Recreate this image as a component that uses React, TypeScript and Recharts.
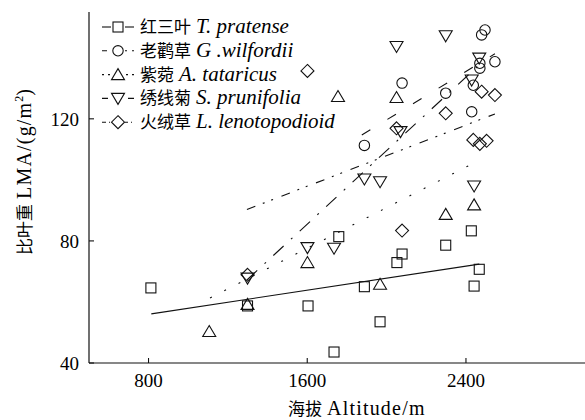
import React from 'react';
import { ScatterChart, Scatter, XAxis, YAxis, ReferenceLine } from 'recharts';

const LATIN = "'Liberation Serif', 'Times New Roman', serif";
const CJK = "'Noto Sans CJK SC', 'Noto Sans CJK JP', sans-serif";
const INK = '#111';

// tick labels
const X_TICKS = [800, 1600, 2400];
const Y_TICKS = [40, 80, 120];

// species names
const speciesCN = ['红三叶', '老鹳草', '紫菀', '绣线菊', '火绒草'];
const speciesLatin = ['T. pratense', 'G .wilfordii', 'A. tataricus', 'S. prunifolia', 'L. lenotopodioid'];

// 红三叶 T. pratense
const pratenseAlt = [812, 1299, 1604, 1735, 1759, 1888, 1967, 2052, 2078, 2298, 2427, 2441, 2467];
const pratenseLMA = [64.6, 58.7, 58.7, 43.6, 81.4, 65.0, 53.5, 72.9, 75.7, 78.6, 83.3, 65.2, 70.7];

// 老鹳草 G. wilfordii
const wilfordiiAlt = [1888, 2078, 2298, 2429, 2437, 2470, 2470, 2479, 2496, 2546];
const wilfordiiLMA = [111.3, 131.7, 128.4, 122.3, 131.0, 138.2, 136.6, 147.5, 149.1, 138.7];

// 紫菀 A. tataricus
const tataricusAlt = [1106, 1299, 1601, 1755, 1967, 2050, 2298, 2441];
const tataricusLMA = [50.3, 59.2, 72.9, 127.3, 65.8, 127.0, 88.7, 91.8];

// 绣线菊 S. prunifolia
const prunifoliaAlt = [1299, 1601, 1735, 1888, 1967, 2050, 2070, 2298, 2429, 2441, 2467];
const prunifoliaLMA = [67.8, 77.8, 77.6, 100.3, 99.4, 143.7, 115.8, 147.2, 132.7, 98.0, 139.9];

// 火绒草 L. lenotopodioid
const lenotoAlt = [1299, 1601, 2050, 2078, 2298, 2437, 2470, 2479, 2504, 2546];
const lenotoLMA = [68.9, 135.7, 116.9, 83.4, 121.8, 113.1, 111.8, 128.9, 112.8, 127.8];

// fitted lines (start / end)
const fitAlt = [[814, 2467], [1875, 2546], [1110, 2442], [1296, 2467], [1296, 2546]];
const fitLMA = [[56.1, 72.4], [114.7, 141.3], [61.3, 105.6], [67.2, 137.7], [90.3, 121.6]];

const dashes = ['', '10 20', '2 14', '14 10 2 10', '9 8 2 7 2 9'];
const legendDashes = ['', '5 5', '2 4', '6 3 1 3', '4 3 1 3'];

const toPoints = (xs: number[], ys: number[]) => xs.map((x, i) => ({ x, y: ys[i] }));

const SquareShape = (p: any) => (
  <rect x={p.cx - 5} y={p.cy - 5} width={10} height={10} fill="none" stroke={INK} strokeWidth={1.1} />
);
const CircleShape = (p: any) => (
  <circle cx={p.cx} cy={p.cy} r={5.2} fill="none" stroke={INK} strokeWidth={1.1} />
);
const TriUpShape = (p: any) => (
  <path d={`M${p.cx},${p.cy - 6} L${p.cx + 6.5},${p.cy + 5} L${p.cx - 6.5},${p.cy + 5} Z`} fill="none" stroke={INK} strokeWidth={1.1} />
);
const TriDownShape = (p: any) => (
  <path d={`M${p.cx},${p.cy + 6} L${p.cx + 6.5},${p.cy - 5} L${p.cx - 6.5},${p.cy - 5} Z`} fill="none" stroke={INK} strokeWidth={1.1} />
);
const DiamondShape = (p: any) => (
  <path d={`M${p.cx},${p.cy - 6.5} L${p.cx + 6.5},${p.cy} L${p.cx},${p.cy + 6.5} L${p.cx - 6.5},${p.cy} Z`} fill="none" stroke={INK} strokeWidth={1.1} />
);

const shapes = [SquareShape, CircleShape, TriUpShape, TriDownShape, DiamondShape];
const seriesData = [
  toPoints(pratenseAlt, pratenseLMA),
  toPoints(wilfordiiAlt, wilfordiiLMA),
  toPoints(tataricusAlt, tataricusLMA),
  toPoints(prunifoliaAlt, prunifoliaLMA),
  toPoints(lenotoAlt, lenotoLMA),
];

const LEGEND_Y0 = 27;
const LEGEND_STEP = 23.8;

const Overlay = () => (
  <svg width={585} height={420} style={{ position: 'absolute', left: 0, top: 0, pointerEvents: 'none' }}>
    {speciesCN.map((cn, i) => {
      const cy = LEGEND_Y0 + i * LEGEND_STEP;
      const Shape = shapes[i];
      return (
        <g key={cn}>
          <line x1={102} x2={134} y1={cy} y2={cy} stroke={INK} strokeWidth={1.1} strokeDasharray={legendDashes[i] || undefined} />
          <rect x={111} y={cy - 7} width={14} height={14} fill="#fff" />
          <Shape cx={118} cy={cy} />
          <text x={140} y={cy + 6} fill="#000">
            <tspan style={{ fontFamily: CJK }} fontSize={17}>{cn}</tspan>
            <tspan style={{ fontFamily: LATIN }} fontSize={21} fontStyle="italic" dx={5}>{speciesLatin[i]}</tspan>
          </text>
        </g>
      );
    })}
    <text x={288} y={415} fill="#000">
      <tspan style={{ fontFamily: CJK }} fontSize={17}>海拔</tspan>
      <tspan style={{ fontFamily: LATIN }} fontSize={20} dx={5} letterSpacing={1.2}>Altitude/m</tspan>
    </text>
    <text transform="translate(31,255) rotate(-90)" fill="#000">
      <tspan style={{ fontFamily: CJK }} fontSize={17}>比叶重</tspan>
      <tspan style={{ fontFamily: LATIN }} fontSize={20} dx={5} letterSpacing={1.2}>LMA/(g/m</tspan>
      <tspan style={{ fontFamily: LATIN }} fontSize={12} dy={-8}>2</tspan>
      <tspan style={{ fontFamily: LATIN }} fontSize={20} dy={8}>)</tspan>
    </text>
  </svg>
);

const tickStyle = { fontSize: 19, fill: '#000', style: { fontFamily: LATIN } };

export default function App() {
  return (
    <div style={{ position: 'absolute', left: 0, top: 0, width: 585, height: 420, background: '#fff', fontFamily: LATIN }}>
      <ScatterChart width={585} height={420} margin={{ top: 12, right: 0, bottom: 0, left: 0 }}>
        <XAxis
          type="number"
          dataKey="x"
          domain={[500, 3000]}
          ticks={X_TICKS}
          allowDataOverflow
          height={57}
          tickSize={-5}
          tickMargin={16}
          axisLine={{ stroke: INK, strokeWidth: 1.2 }}
          tickLine={{ stroke: INK, strokeWidth: 1.1 }}
          tick={tickStyle}
        />
        <YAxis
          type="number"
          dataKey="y"
          domain={[40, 155]}
          ticks={Y_TICKS}
          allowDataOverflow
          width={89}
          tickSize={-5}
          tickMargin={15}
          axisLine={{ stroke: INK, strokeWidth: 1.2 }}
          tickLine={{ stroke: INK, strokeWidth: 1.1 }}
          tick={tickStyle}
        />
        {fitAlt.map((xs, i) => (
          <ReferenceLine
            key={'fit' + i}
            segment={[{ x: xs[0], y: fitLMA[i][0] }, { x: xs[1], y: fitLMA[i][1] }]}
            stroke={INK}
            strokeWidth={1.1}
            strokeDasharray={dashes[i] || undefined}
            ifOverflow="visible"
          />
        ))}
        {seriesData.map((d, i) => (
          <Scatter key={'s' + i} data={d} shape={shapes[i]} isAnimationActive={false} />
        ))}
      </ScatterChart>
      <Overlay />
    </div>
  );
}
